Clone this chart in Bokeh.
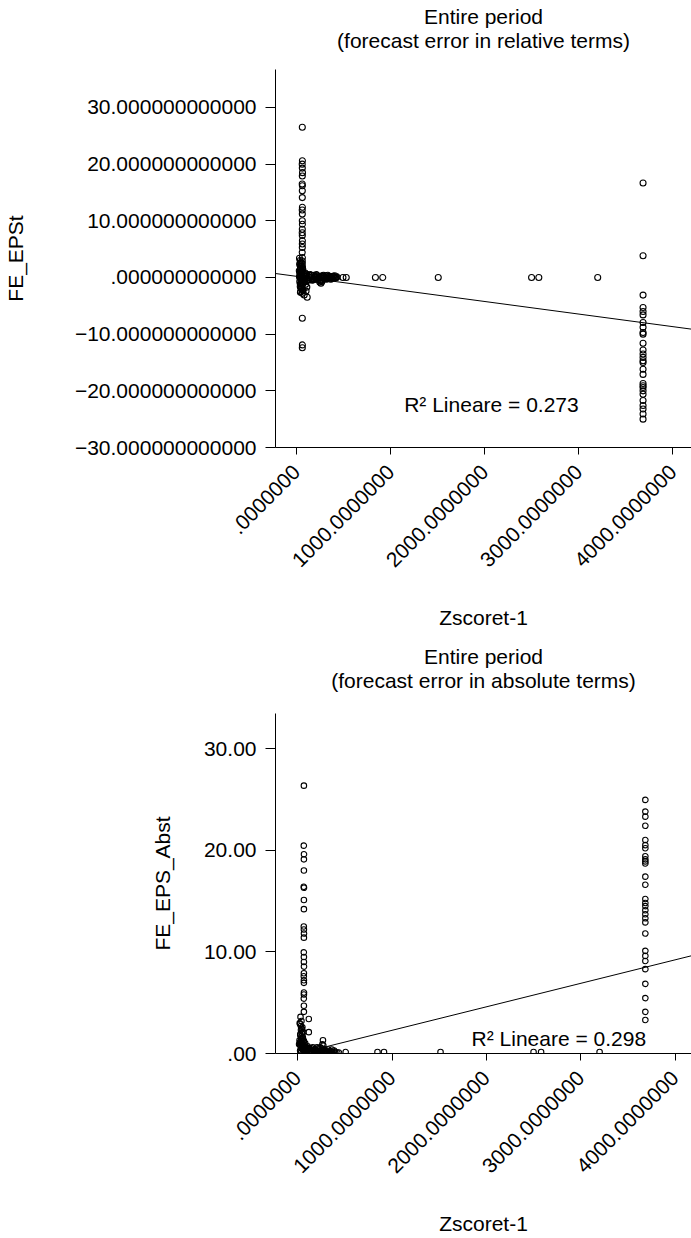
import math

from bokeh.core.properties import value
from bokeh.embed import file_html
from bokeh.layouts import column
from bokeh.models import FixedTicker, Label, Range1d
from bokeh.plotting import figure
from bokeh.resources import INLINE

FONT = "Liberation Sans"
FS = "21px"

# ---------------------------------------------------------------- data
# Forecast error in relative terms (FE_EPSt) against Zscoret-1
zscore_rel = (
    [60, 61, 59, 60, 62, 60, 59, 61, 60, 60, 61, 59, 60, 60, 61, 60, 59, 60, 61, 60,
     60, 59, 61, 60, 60, 62, 60, 60, 61, 60]
    + [30, 38, 45, 32, 50, 40, 28, 55, 35, 48, 30, 42, 58, 33, 47, 62, 38, 52, 70, 44,
       60, 80, 100, 108, 112, 95, 85, 75, 90, 65]
    + [36, 44, 52, 40, 48, 56, 34, 42, 50, 58, 38, 46, 54, 62, 40, 48, 56, 36, 44, 52,
       60, 68, 76, 84, 92]
    + [100, 115, 130, 145, 160, 175, 190, 205, 220, 235, 250, 265, 280, 295, 310, 325,
       340, 355, 370, 385, 400, 415, 430]
    + [108, 138, 168, 198, 228, 258, 288, 318, 348, 378, 408, 245, 258, 268]
    + [92, 122, 152, 182, 212, 242, 272, 302, 332, 362, 392, 422,
       85, 105, 125, 145, 165, 185, 205, 225, 255, 285, 315, 345, 375, 405]
    + [492, 527, 837, 915, 1505, 2497, 2574, 3200]
    + [3682] * 28
)
fe_eps_rel = (
    [26.5, 20.6, 20.0, 19.3, 18.5, 17.9, 16.5, 16.2, 15.3, 14.1, 12.4, 11.9, 11.2, 10.0,
     9.4, 8.5, 7.9, 7.4, 6.5, 5.9, 5.3, 4.4, 3.5, 2.9, 2.4, 1.8, 1.3, -7.2, -11.9, -12.4]
    + [3.4, 3.0, 2.7, 2.3, 2.0, 1.6, 1.2, 1.0, 0.7, 0.4, 0.1, -0.2, -0.4, -0.7, -1.0,
       -1.3, -1.6, -1.9, -2.2, -2.5, -2.8, -3.1, -2.4, -1.7, -3.5, -1.2, -0.8, 0.3, 0.8, 1.5]
    + [2.5, 2.2, 1.9, 1.4, 1.1, 0.6, 0.2, -0.1, -0.5, -0.9, -1.1, -1.4, -2.0, -2.3, -2.6,
       -0.3, 0.5, 0.9, -1.8, -0.6, 0.0, -0.4, 0.2, -0.2, 0.4]
    + [0.2, -0.3, 0.1, -0.1, 0.4, -0.4, 0.0, 0.3, -0.2, 0.1, -0.5, 0.2, -0.1, 0.0, 0.3,
       -0.2, 0.1, -0.1, 0.0, 0.2, -0.1, 0.0, 0.1]
    + [-0.1, 0.3, -0.2, 0.1, -0.3, 0.0, 0.2, -0.1, 0.0, 0.1, -0.1, -0.8, -1.0, -0.7]
    + [0.5, -0.5, 0.4, -0.3, 0.5, -0.4, 0.3, -0.2, 0.4, -0.3, 0.2, 0.0,
       -0.6, 0.6, -0.4, 0.5, -0.5, 0.4, -0.3, 0.3, -0.6, 0.4, -0.3, 0.2, -0.2, 0.3]
    + [0.0, 0.0, 0.0, 0.0, 0.0, 0.0, 0.0, 0.0]
    + [16.66, 3.83, -3.11, -5.29, -6.0, -6.6, -7.94, -8.8, -9.7, -10.0, -11.6, -12.8,
       -13.5, -14.1, -14.7, -15.0, -16.2, -17.1, -18.7, -19.1, -19.4, -20.0, -20.6,
       -21.7, -22.6, -23.2, -24.1, -25.0]
)

# Forecast error in absolute terms (FE_EPS_Abst) against Zscoret-1
zscore_abs = (
    [66, 65, 67, 66, 66, 65, 67, 66, 66, 65, 66, 67, 66, 65, 66, 66, 67, 66, 65, 66,
     66, 67, 66, 65, 66, 66, 118, 118]
    + [30, 40, 25, 50, 35, 45, 28, 55, 38, 60, 32, 48, 70, 42, 58, 26, 75, 36, 52, 80,
       90, 100, 20, 15, 85]
    + [22, 34, 46, 58, 28, 40, 52, 64, 24, 36, 48, 60, 72, 30, 42, 54, 66, 78, 26, 38,
       50, 62, 74, 86, 98]
    + [100, 115, 130, 145, 160, 175, 190, 205, 220, 235, 250, 280, 295, 310, 325, 340,
       355, 370, 385, 400, 438]
    + [108, 138, 168, 198, 228, 288, 318, 348, 255, 262, 268, 272, 265]
    + [92, 122, 152, 182, 212, 242, 302, 332, 362, 392, 420,
       105, 125, 145, 165, 185, 205, 225, 275, 305, 335]
    + [509, 846, 915, 1514, 2500, 2580, 3200]
    + [3685] * 29
)
fe_eps_abs = (
    [26.35, 20.45, 19.6, 19.1, 18.0, 16.4, 16.3, 15.1, 14.2, 12.5, 12.2, 11.8, 11.4,
     9.95, 9.5, 9.0, 8.55, 7.9, 7.6, 7.2, 6.95, 6.0, 5.8, 5.4, 4.7, 4.1, 3.4, 2.1]
    + [3.6, 3.2, 2.9, 2.6, 2.3, 2.0, 1.8, 1.6, 1.4, 1.2, 1.0, 0.8, 0.7, 0.5, 0.4, 0.3,
       0.2, 0.1, 0.0, 1.0, 0.6, 0.4, 1.3, 0.9, 0.3]
    + [3.0, 2.7, 2.4, 2.1, 1.9, 1.7, 1.5, 1.3, 1.1, 0.9, 0.7, 0.5, 0.3, 0.2, 0.6, 0.9,
       1.2, 0.4, 0.8, 1.5, 1.0, 0.6, 0.3, 0.5, 0.2]
    + [0.3, 0.1, 0.4, 0.2, 0.6, 0.1, 0.3, 0.2, 0.5, 0.1, 0.2, 0.3, 0.1, 0.2, 0.4, 0.1,
       0.2, 0.1, 0.3, 0.1, 0.1]
    + [0.5, 0.2, 0.3, 0.1, 0.4, 0.2, 0.1, 0.2, 0.5, 0.9, 1.3, 0.8, 0.3]
    + [0.2, 0.5, 0.1, 0.4, 0.2, 0.6, 0.3, 0.1, 0.4, 0.2, 0.1,
       0.7, 0.2, 0.5, 0.3, 0.1, 0.6, 0.2, 0.4, 0.2, 0.1]
    + [0.15, 0.15, 0.15, 0.15, 0.15, 0.15, 0.15]
    + [24.95, 23.8, 23.3, 22.4, 21.0, 20.5, 20.2, 19.4, 19.1, 18.9, 18.7, 17.4, 16.6,
       15.2, 14.8, 14.5, 14.1, 13.7, 13.3, 12.9, 11.8, 10.1, 9.6, 9.1, 8.3, 6.85, 5.45,
       4.1, 3.3]
)

# Linear fits (intercept, slope) and their R squared
fit_rel = (0.2, -0.00222)
fit_abs = (-0.03, 0.002311)
r2_rel = 0.273
r2_abs = 0.298

x_ticks = [0, 1000, 2000, 3000, 4000]
x_tick_labels = [".0000000", "1000.0000000", "2000.0000000", "3000.0000000", "4000.0000000"]
y_ticks_rel = [-30, -20, -10, 0, 10, 20, 30]
y_tick_labels_rel = ["\u221230.000000000000", "\u221220.000000000000", "\u221210.000000000000",
                     ".000000000000", "10.000000000000", "20.000000000000", "30.000000000000"]
y_ticks_abs = [0, 10, 20, 30]
y_tick_labels_abs = [".00", "10.00", "20.00", "30.00"]


def title_strip(height, lines):
    """A bare strip holding two title lines centred over the chart area below it."""
    t = figure(width=691, height=height, output_backend="svg", toolbar_location=None,
               x_range=Range1d(0, 1), y_range=Range1d(0, height),
               x_axis_type=None, y_axis_type=None, min_border=0)
    t.outline_line_color = None
    t.title.visible = False
    t.background_fill_color = "white"
    t.border_fill_color = "white"
    t.text(x=[0.5, 0.5], y=[height - 16, height - 40], text=lines,
           text_font=value(FONT), text_font_size=FS, text_color="black",
           text_align="center", text_baseline="middle")
    return t


def make_panel(height, border_bottom, border_left, x_rng, y_rng, xs, ys,
               fit, r2, r2_pos, y_ticks, y_labels, y_name, marker_size,
               ylabel_standoff):
    p = figure(width=691, height=height, output_backend="svg", toolbar_location=None,
               x_range=Range1d(*x_rng), y_range=Range1d(*y_rng),
               min_border_left=border_left, min_border_right=0,
               min_border_top=0, min_border_bottom=border_bottom)
    p.outline_line_color = None
    p.grid.visible = False
    p.title.visible = False
    p.background_fill_color = "white"
    p.border_fill_color = "white"

    # fit line across the full horizontal range
    x0, x1 = x_rng
    a, b = fit
    p.line([x0, x1], [a + b * x0, a + b * x1], line_color="black", line_width=1)

    p.scatter(xs, ys, marker="circle", size=marker_size, fill_color=None,
              line_color="black", line_width=1.1)

    p.add_layout(Label(x=r2_pos[0], y=r2_pos[1], text=f"R\u00b2 Lineare = {r2:.3f}",
                       text_font=FONT, text_font_size=FS, text_color="black",
                       text_baseline="alphabetic"))

    for ax in p.axis:
        ax.axis_line_color = "black"
        ax.major_tick_line_color = "black"
        ax.minor_tick_line_color = None
        ax.major_tick_in = 0
        ax.major_label_text_font = FONT
        ax.major_label_text_font_size = FS
        ax.major_label_text_color = "black"
        ax.axis_label_text_font = FONT
        ax.axis_label_text_font_size = FS
        ax.axis_label_text_font_style = "normal"
        ax.axis_label_text_color = "black"

    xa = p.xaxis[0]
    xa.ticker = FixedTicker(ticks=x_ticks)
    xa.major_label_overrides = dict(zip(x_ticks, x_tick_labels))
    xa.major_label_orientation = math.pi / 4
    xa.major_tick_out = 7
    xa.major_label_standoff = 14
    xa.axis_label = "Zscoret-1"
    xa.axis_label_standoff = 30

    ya = p.yaxis[0]
    ya.ticker = FixedTicker(ticks=y_ticks)
    ya.major_label_overrides = dict(zip(y_ticks, y_labels))
    ya.major_tick_out = 10
    ya.major_label_standoff = 9
    ya.axis_label = y_name
    ya.axis_label_standoff = ylabel_standoff
    return p


top_title = title_strip(69, ["Entire period", "(forecast error in relative terms)"])
top = make_panel(571, 193, 272, (-225, 4197), (-30, 36.7), zscore_rel,
                 fe_eps_rel, fit_rel, r2_rel, (1143, -22.4), y_ticks_rel,
                 y_tick_labels_rel, "FE_EPSt", 6, 45)

bottom_title = title_strip(73, ["Entire period", "(forecast error in absolute terms)"])
bottom = make_panel(525, 184, 267, (-235, 4174), (0, 33.45), zscore_abs,
                    fe_eps_abs, fit_abs, r2_abs, (1843, 1.5), y_ticks_abs,
                    y_tick_labels_abs, "FE_EPS_Abst", 5.5, 27)

layout = column(top_title, top, bottom_title, bottom, spacing=0)
open("out.html", "w").write(file_html(layout, INLINE))
